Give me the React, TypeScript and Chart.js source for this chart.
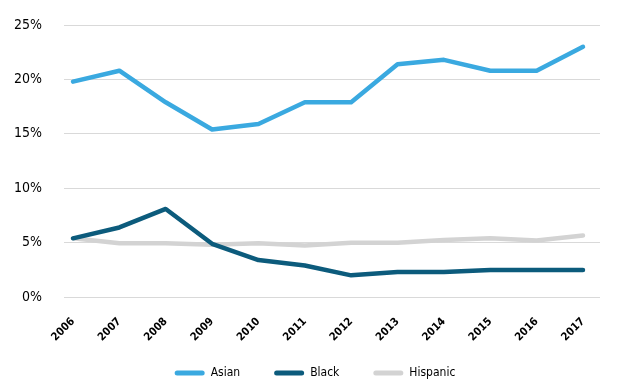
import React, { useEffect, useRef } from "react";
import { Chart, registerables } from "chart.js";

Chart.register(...registerables);

const years = [2006, 2007, 2008, 2009, 2010, 2011, 2012, 2013, 2014, 2015, 2016, 2017];
const asian = [19.8, 20.8, 17.9, 15.4, 15.9, 17.9, 17.9, 21.4, 21.8, 20.8, 20.8, 23.0];
const black = [5.4, 6.4, 8.1, 4.9, 3.4, 2.9, 2.0, 2.3, 2.3, 2.5, 2.5, 2.5];
const hispanic = [5.4, 4.95, 4.95, 4.8, 4.95, 4.75, 5.0, 5.0, 5.25, 5.4, 5.2, 5.65];
const yTicks = [0, 5, 10, 15, 20, 25];

const FONT = "'DejaVu Sans Condensed', 'Liberation Sans', sans-serif";

export default function App() {
  const ref = useRef<HTMLCanvasElement>(null);
  useEffect(() => {
    document.body.style.margin = "0";
    const mk = (label: string, vals: number[], color: string) => ({
      label,
      data: years.map((x, i) => ({ x, y: vals[i] })),
      borderColor: color,
      backgroundColor: color,
      borderWidth: 4.5,
      pointRadius: 0,
      tension: 0,
      borderCapStyle: "round" as const,
      borderJoinStyle: "round" as const,
    });
    const chart = new Chart(ref.current!, {
      type: "line",
      data: {
        datasets: [
          mk("Asian", asian, "#3AA9E0"),
          mk("Black", black, "#0C5B7C"),
          mk("Hispanic", hispanic, "#D3D3D3"),
        ],
      },
      options: {
        animation: false,
        responsive: false,
        layout: { padding: { left: 30, right: 20, top: 25, bottom: 0 } },
        plugins: {
          tooltip: { enabled: false },
          legend: {
            position: "bottom",
            labels: {
              boxWidth: 30,
              boxHeight: 5,
              padding: 34,
              color: "#000",
              font: { family: FONT, size: 12 },
              useBorderRadius: true,
              borderRadius: 2.5,
              generateLabels: (c: any) =>
                c.data.datasets.map((d: any, i: number) => ({
                  text: d.label,
                  fillStyle: d.borderColor,
                  strokeStyle: d.borderColor,
                  lineWidth: 0,
                  fontColor: "#000",
                  borderRadius: 2.5,
                  datasetIndex: i,
                  hidden: false,
                })),
            },
          },
        },
        scales: {
          x: {
            type: "linear",
            min: 2005.806,
            max: 2017.367,
            grid: { display: false },
            border: { display: false },
            ticks: {
              stepSize: 1,
              includeBounds: false,
              autoSkip: false,
              maxRotation: 45,
              minRotation: 45,
              padding: 10,
              color: "#000",
              font: { family: FONT, size: 11, weight: "bold" },
              callback: (v: any) => (Number.isInteger(v) ? String(v) : ""),
            },
            afterFit: (s: any) => {
              s.height = 35.9;
              s.paddingLeft = 0;
              s.paddingRight = 0;
              s._computeLabelArea = () => undefined;
            },
          },
          y: {
            min: 0,
            max: 25,
            grid: { color: "#D9D9D9", lineWidth: 1, drawTicks: false },
            border: { display: false },
            afterBuildTicks: (s: any) => {
              s.ticks = yTicks.map((v) => ({ value: v }));
            },
            ticks: {
              padding: 22,
              color: "#000",
              font: { family: FONT, size: 14 },
              callback: (v: any) => v + "%",
            },
            afterFit: (s: any) => {
              s.width = 34;
              s.paddingTop = 0;
              s.paddingBottom = 0;
              s._computeLabelArea = () => undefined;
            },
          },
        },
      },
    });
    return () => chart.destroy();
  }, []);
  return (
    <div style={{ width: 620, height: 389 }}>
      <canvas ref={ref} width={620} height={389} />
    </div>
  );
}
